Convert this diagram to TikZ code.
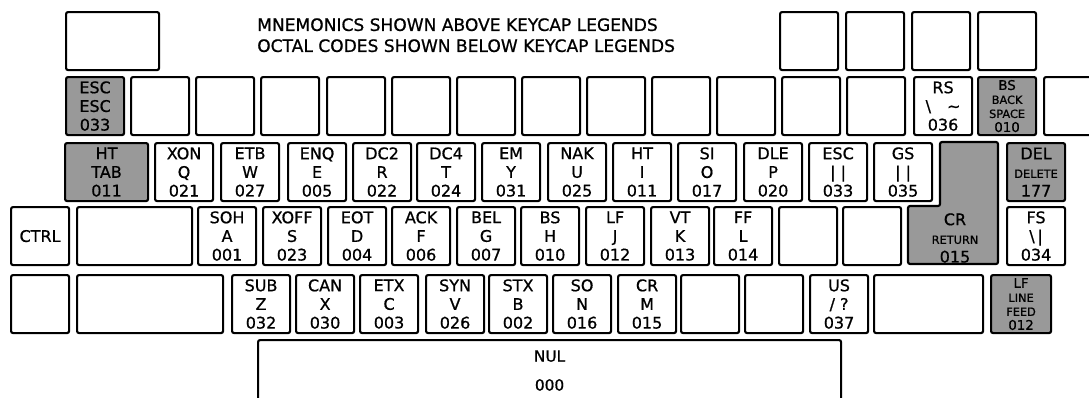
\documentclass[tikz,border=0pt]{standalone}
\usepackage{fontspec}
\setmainfont{DejaVu Sans}[RawFeature={embolden=0.8}]
\definecolor{keyshade}{gray}{0.6}
\newcommand{\keyfont}{\fontsize{12}{14}\selectfont}
\newcommand{\tinykey}{\fontsize{8.5}{10}\selectfont}

\begin{document}
\begin{tikzpicture}[x=0.75pt, y=-0.75pt,
  key/.style={draw, line width=1.6pt, rounded corners=1.5pt, anchor=north west,
    minimum width=43.5pt, minimum height=43.5pt, inner sep=0pt,
    align=center, font=\keyfont},
  shaded/.style={key, fill=keyshade}]
  \useasboundingbox (0,0) rectangle (1089,397);
  \clip (0,0) rectangle (1089,397);

  % Heading
  \node[anchor=north west, inner sep=0pt, align=left,
    font=\fontsize{12.8}{15.75}\selectfont] (heading) at (257,18)
    {MNEMONICS SHOWN ABOVE KEYCAP LEGENDS\\OCTAL CODES SHOWN BELOW KEYCAP LEGENDS};

  % Row 1
  \node[key, minimum width=69.75pt] (r1a) at (65,11) {};
  \node[key] (r1b) at (779,11) {};
  \node[key] (r1c) at (845,11) {};
  \node[key] (r1d) at (911,11) {};
  \node[key] (r1e) at (977,11) {};

  % Row 2
  \node[shaded] (esc) at (65,76) {ESC\\ESC\\033};
  \node[key] (r2a) at (130,76) {};
  \node[key] (r2b) at (195,76) {};
  \node[key] (r2c) at (260,76) {};
  \node[key] (r2d) at (326,76) {};
  \node[key] (r2e) at (391,76) {};
  \node[key] (r2f) at (456,76) {};
  \node[key] (r2g) at (521,76) {};
  \node[key] (r2h) at (586,76) {};
  \node[key] (r2i) at (651,76) {};
  \node[key] (r2j) at (716,76) {};
  \node[key] (r2k) at (781,76) {};
  \node[key] (r2l) at (846,76) {};
  \node[key] (rs) at (913,76) {RS\\\textbackslash\quad\textasciitilde\\036};
  \node[shaded, font=\fontsize{10}{10.5}\selectfont] (bs) at (977,76)
    {BS\\{\tinykey BACK}\\{\tinykey SPACE}\\010};
  \node[key] (r2m) at (1043,76) {};

  % Row 3
  \node[shaded, minimum width=62.25pt] (tab) at (64,142) {HT\\TAB\\011};
  \node[key] (q) at (154,142) {XON\\Q\\021};
  \node[key] (w) at (220,142) {ETB\\W\\027};
  \node[key] (e) at (287,142) {ENQ\\E\\005};
  \node[key] (r) at (352,142) {DC2\\R\\022};
  \node[key] (t) at (416,142) {DC4\\T\\024};
  \node[key] (y) at (481,142) {EM\\Y\\031};
  \node[key] (u) at (547,142) {NAK\\U\\025};
  \node[key] (i) at (612,142) {HT\\I\\011};
  \node[key] (o) at (677,142) {SI\\O\\017};
  \node[key] (p) at (743,142) {DLE\\P\\020};
  \node[key] (lbrack) at (808,142) {ESC\\| |\\033};
  \node[key] (rbrack) at (873,142) {GS\\| |\\035};
  \node[shaded] (del) at (1006,142) {DEL\\{\tinykey DELETE}\\177};

  % Return key, L-shaped over rows 3 and 4
  \draw[line width=1.6pt, rounded corners=1.5pt, fill=keyshade]
    (940,142) -- (998,142) -- (998,264) -- (908,264) -- (908,206) -- (940,206) -- cycle;
  \node[align=center, font=\keyfont] (cr) at (955,238) {CR\\{\tinykey RETURN}\\015};

  % Row 4
  \node[key] (ctrl) at (10,206) {CTRL};
  \node[key, minimum width=86.25pt] (r4a) at (76,206) {};
  \node[key] (a) at (197,206) {SOH\\A\\001};
  \node[key] (s) at (262,206) {XOFF\\S\\023};
  \node[key] (d) at (327,206) {EOT\\D\\004};
  \node[key] (f) at (391,206) {ACK\\F\\006};
  \node[key] (g) at (456,206) {BEL\\G\\007};
  \node[key] (h) at (520,206) {BS\\H\\010};
  \node[key] (j) at (585,206) {LF\\J\\012};
  \node[key] (k) at (650,206) {VT\\K\\013};
  \node[key] (l) at (713,206) {FF\\L\\014};
  \node[key] (r4b) at (778,206) {};
  \node[key] (r4c) at (842,206) {};
  \node[key] (fs) at (1006,206) {FS\\\textbackslash\,|\\034};

  % Row 5
  \node[key] (r5a) at (10,274) {};
  \node[key, minimum width=109.5pt] (r5b) at (76,274) {};
  \node[key] (z) at (231,274) {SUB\\Z\\032};
  \node[key] (x) at (295,274) {CAN\\X\\030};
  \node[key] (c) at (359,274) {ETX\\C\\003};
  \node[key] (v) at (425,274) {SYN\\V\\026};
  \node[key] (b) at (488,274) {STX\\B\\002};
  \node[key] (n) at (552,274) {SO\\N\\016};
  \node[key] (m) at (617,274) {CR\\M\\015};
  \node[key] (r5c) at (680,274) {};
  \node[key] (r5d) at (744,274) {};
  \node[key] (slash) at (809,274) {US\\/ ?\\037};
  \node[key, minimum width=81.75pt] (r5e) at (873,274) {};
  \node[shaded, minimum width=45pt, font=\fontsize{10}{10.5}\selectfont] (lf) at (990,274)
    {LF\\{\tinykey LINE}\\{\tinykey FEED}\\012};

  % Space bar, cut off at the bottom
  \node[key, minimum width=437.25pt, minimum height=45.75pt,
    font=\fontsize{11.5}{21.75}\selectfont] (space) at (257,339) {NUL\\000};

\end{tikzpicture}
\end{document}
